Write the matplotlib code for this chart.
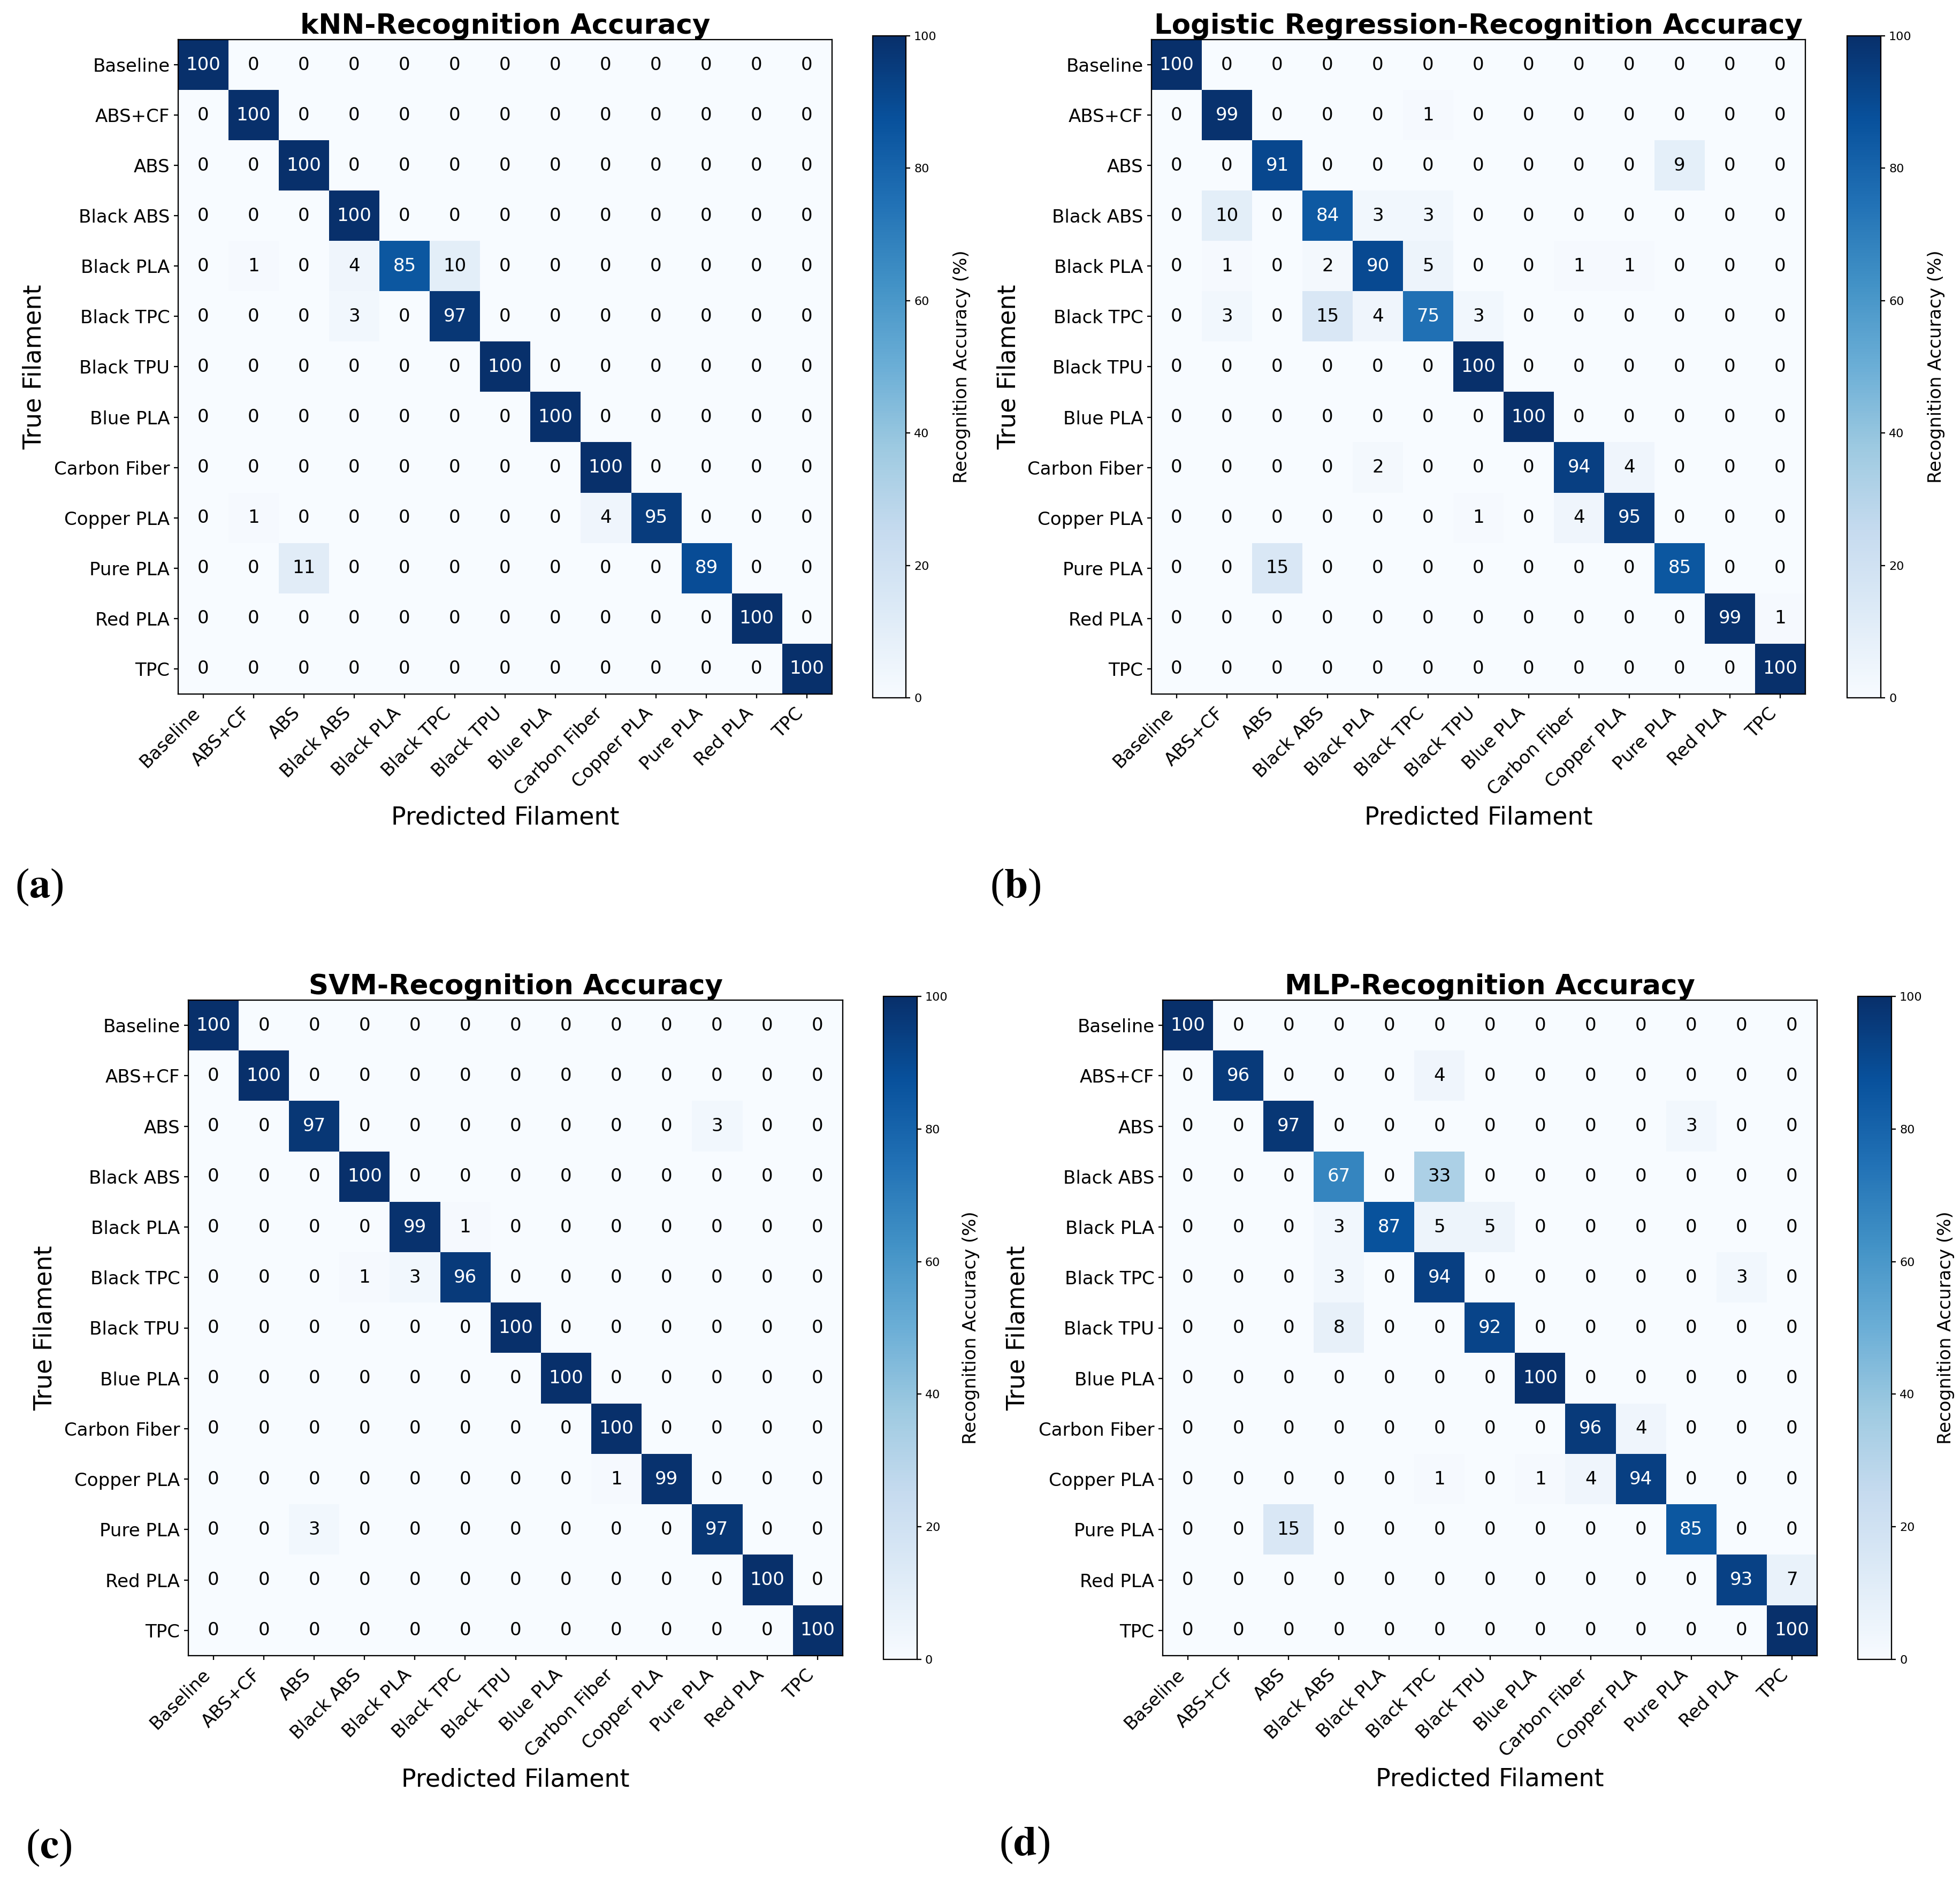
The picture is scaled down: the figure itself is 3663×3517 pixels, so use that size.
import matplotlib
matplotlib.use('Agg')
import matplotlib.pyplot as plt
import numpy as np

plt.rcParams['mathtext.fontset'] = 'stix'

# class labels (rows = true, columns = predicted)
filaments = ['Baseline', 'ABS+CF', 'ABS', 'Black ABS', 'Black PLA', 'Black TPC',
             'Black TPU', 'Blue PLA', 'Carbon Fiber', 'Copper PLA', 'Pure PLA',
             'Red PLA', 'TPC']

# recognition accuracy (%) per model
knn_cm = [
    [100, 0, 0, 0, 0, 0, 0, 0, 0, 0, 0, 0, 0],
    [0, 100, 0, 0, 0, 0, 0, 0, 0, 0, 0, 0, 0],
    [0, 0, 100, 0, 0, 0, 0, 0, 0, 0, 0, 0, 0],
    [0, 0, 0, 100, 0, 0, 0, 0, 0, 0, 0, 0, 0],
    [0, 1, 0, 4, 85, 10, 0, 0, 0, 0, 0, 0, 0],
    [0, 0, 0, 3, 0, 97, 0, 0, 0, 0, 0, 0, 0],
    [0, 0, 0, 0, 0, 0, 100, 0, 0, 0, 0, 0, 0],
    [0, 0, 0, 0, 0, 0, 0, 100, 0, 0, 0, 0, 0],
    [0, 0, 0, 0, 0, 0, 0, 0, 100, 0, 0, 0, 0],
    [0, 1, 0, 0, 0, 0, 0, 0, 4, 95, 0, 0, 0],
    [0, 0, 11, 0, 0, 0, 0, 0, 0, 0, 89, 0, 0],
    [0, 0, 0, 0, 0, 0, 0, 0, 0, 0, 0, 100, 0],
    [0, 0, 0, 0, 0, 0, 0, 0, 0, 0, 0, 0, 100],
]

logreg_cm = [
    [100, 0, 0, 0, 0, 0, 0, 0, 0, 0, 0, 0, 0],
    [0, 99, 0, 0, 0, 1, 0, 0, 0, 0, 0, 0, 0],
    [0, 0, 91, 0, 0, 0, 0, 0, 0, 0, 9, 0, 0],
    [0, 10, 0, 84, 3, 3, 0, 0, 0, 0, 0, 0, 0],
    [0, 1, 0, 2, 90, 5, 0, 0, 1, 1, 0, 0, 0],
    [0, 3, 0, 15, 4, 75, 3, 0, 0, 0, 0, 0, 0],
    [0, 0, 0, 0, 0, 0, 100, 0, 0, 0, 0, 0, 0],
    [0, 0, 0, 0, 0, 0, 0, 100, 0, 0, 0, 0, 0],
    [0, 0, 0, 0, 2, 0, 0, 0, 94, 4, 0, 0, 0],
    [0, 0, 0, 0, 0, 0, 1, 0, 4, 95, 0, 0, 0],
    [0, 0, 15, 0, 0, 0, 0, 0, 0, 0, 85, 0, 0],
    [0, 0, 0, 0, 0, 0, 0, 0, 0, 0, 0, 99, 1],
    [0, 0, 0, 0, 0, 0, 0, 0, 0, 0, 0, 0, 100],
]

svm_cm = [
    [100, 0, 0, 0, 0, 0, 0, 0, 0, 0, 0, 0, 0],
    [0, 100, 0, 0, 0, 0, 0, 0, 0, 0, 0, 0, 0],
    [0, 0, 97, 0, 0, 0, 0, 0, 0, 0, 3, 0, 0],
    [0, 0, 0, 100, 0, 0, 0, 0, 0, 0, 0, 0, 0],
    [0, 0, 0, 0, 99, 1, 0, 0, 0, 0, 0, 0, 0],
    [0, 0, 0, 1, 3, 96, 0, 0, 0, 0, 0, 0, 0],
    [0, 0, 0, 0, 0, 0, 100, 0, 0, 0, 0, 0, 0],
    [0, 0, 0, 0, 0, 0, 0, 100, 0, 0, 0, 0, 0],
    [0, 0, 0, 0, 0, 0, 0, 0, 100, 0, 0, 0, 0],
    [0, 0, 0, 0, 0, 0, 0, 0, 1, 99, 0, 0, 0],
    [0, 0, 3, 0, 0, 0, 0, 0, 0, 0, 97, 0, 0],
    [0, 0, 0, 0, 0, 0, 0, 0, 0, 0, 0, 100, 0],
    [0, 0, 0, 0, 0, 0, 0, 0, 0, 0, 0, 0, 100],
]

mlp_cm = [
    [100, 0, 0, 0, 0, 0, 0, 0, 0, 0, 0, 0, 0],
    [0, 96, 0, 0, 0, 4, 0, 0, 0, 0, 0, 0, 0],
    [0, 0, 97, 0, 0, 0, 0, 0, 0, 0, 3, 0, 0],
    [0, 0, 0, 67, 0, 33, 0, 0, 0, 0, 0, 0, 0],
    [0, 0, 0, 3, 87, 5, 5, 0, 0, 0, 0, 0, 0],
    [0, 0, 0, 3, 0, 94, 0, 0, 0, 0, 0, 3, 0],
    [0, 0, 0, 8, 0, 0, 92, 0, 0, 0, 0, 0, 0],
    [0, 0, 0, 0, 0, 0, 0, 100, 0, 0, 0, 0, 0],
    [0, 0, 0, 0, 0, 0, 0, 0, 96, 4, 0, 0, 0],
    [0, 0, 0, 0, 0, 1, 0, 1, 4, 94, 0, 0, 0],
    [0, 0, 15, 0, 0, 0, 0, 0, 0, 0, 85, 0, 0],
    [0, 0, 0, 0, 0, 0, 0, 0, 0, 0, 0, 93, 7],
    [0, 0, 0, 0, 0, 0, 0, 0, 0, 0, 0, 0, 100],
]

model_names = ['kNN', 'Logistic Regression', 'SVM', 'MLP']
panel_letters = ['a', 'b', 'c', 'd']
matrices = [knn_cm, logreg_cm, svm_cm, mlp_cm]

# ──────────────────────────────────────────────────────────────
# layout in pixels (x0, y0, x1, y1), y measured from the top
# ──────────────────────────────────────────────────────────────
W, H = 3663, 3517
layout = [
    # axes box, colorbar box, ylabel x, xlabel y, cbar label x, tag (x, y)
    dict(ax=(333, 74, 1555, 1297), cb=(1631, 67, 1693, 1304),
         ylab=64, xlab=1528, cblab=1797, tag=(28, 1658)),
    dict(ax=(2152, 74, 3374, 1297), cb=(3452, 67, 3515, 1304),
         ylab=1885, xlab=1528, cblab=3618, tag=(1850, 1658)),
    dict(ax=(352, 1869, 1575, 3094), cb=(1651, 1862, 1714, 3101),
         ylab=84, xlab=3326, cblab=1815, tag=(48, 3453)),
    dict(ax=(2173, 1869, 3396, 3094), cb=(3472, 1862, 3535, 3101),
         ylab=1902, xlab=3325, cblab=3636, tag=(1867, 3448)),
]


def box(b):
    x0, y0, x1, y1 = b
    return [x0 / W, 1 - y1 / H, (x1 - x0) / W, (y1 - y0) / H]


LW = 1.65
fig = plt.figure(figsize=(W / 100, H / 100), dpi=100)

for name, letter, cm, lay in zip(model_names, panel_letters, matrices, layout):
    data = np.array(cm)
    ax = fig.add_axes(box(lay['ax']))
    im = ax.imshow(data, cmap='Blues', vmin=0, vmax=100,
                   interpolation='nearest', aspect='auto')
    n = len(filaments)
    for i in range(n):
        for j in range(n):
            v = data[i, j]
            ax.text(j, i, f'{v:d}', ha='center', va='center', fontsize=24.5,
                    color='white' if v > 50 else 'black')

    ax.set_xticks(range(n))
    ax.set_yticks(range(n))
    ax.set_xticklabels(filaments, rotation=45, ha='right')
    ax.set_yticklabels(filaments)
    ax.tick_params(labelsize=24.5, length=5.8, width=LW, pad=5.5)
    ax.tick_params(axis='x', pad=8)
    for sp in ax.spines.values():
        sp.set_linewidth(LW)

    ax.set_title(f'{name}-Recognition Accuracy', fontsize=37,
                 fontweight='bold', pad=8)

    ax0, ay0, ax1, ay1 = lay['ax']
    ax.set_xlabel('Predicted Filament', fontsize=33)
    ax.xaxis.set_label_coords(0.5, (ay1 - lay['xlab']) / (ay1 - ay0))
    ax.xaxis.label.set_va('center')
    ax.set_ylabel('True Filament', fontsize=33)
    ax.yaxis.set_label_coords((lay['ylab'] - ax0) / (ax1 - ax0), 0.5)
    ax.yaxis.label.set_va('center')

    # colour bar
    cax = fig.add_axes(box(lay['cb']))
    cbar = fig.colorbar(im, cax=cax, ticks=[0, 20, 40, 60, 80, 100])
    cbar.outline.set_linewidth(LW)
    cax.tick_params(labelsize=16, length=5.8, width=LW, pad=5)
    cbar.set_label('Recognition Accuracy (%)', fontsize=24.5)
    cx0, _, cx1, _ = lay['cb']
    cax.yaxis.set_label_coords((lay['cblab'] - cx0) / (cx1 - cx0), 0.5)
    cax.yaxis.label.set_va('center')
    cax.yaxis.label.set_ha('center')

    # panel tag: regular parentheses, bold letter
    tx, ty = lay['tag']
    fig.text(tx / W, 1 - ty / H, '($\\mathbf{' + letter + '}$)', fontsize=57,
             family='Liberation Serif', ha='left', va='center')

fig.savefig('out.png', dpi=100)
plt.close(fig)
